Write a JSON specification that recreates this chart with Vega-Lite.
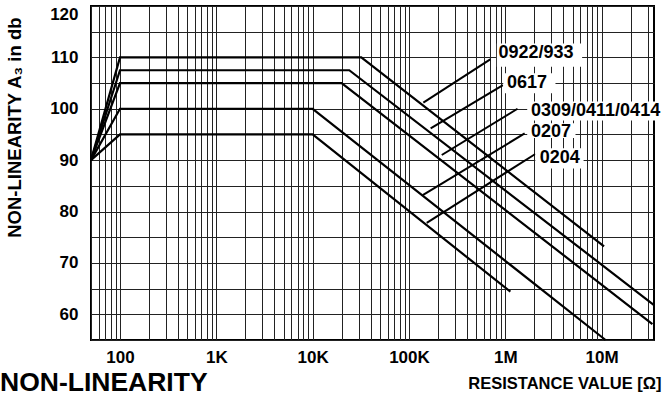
{
  "$schema": "https://vega.github.io/schema/vega-lite/v6.json",
  "width": 563,
  "height": 334,
  "autosize": {"type": "none"},
  "padding": {"left": 91, "top": 6, "right": 9, "bottom": 64},
  "background": "white",
  "config": {
    "font": "Liberation Sans",
    "view": {"stroke": "black", "strokeWidth": 2},
    "axis": {
      "grid": true, "gridColor": "#222", "gridWidth": 1, "gridOpacity": 1,
      "domain": false, "ticks": false,
      "labelFont": "Liberation Sans", "labelFontWeight": "bold", "labelFontSize": 17, "labelColor": "black",
      "titleFont": "Liberation Sans", "titleColor": "black", "titleFontWeight": "bold",
      "labelOverlap": false, "labelBound": false
    }
  },
  "title": {
    "text": "NON-LINEARITY", "orient": "bottom", "anchor": "start", "frame": "group",
    "font": "Liberation Sans", "fontSize": 26.5, "fontWeight": "bold", "color": "black",
    "offset": 0, "dx": -91, "dy": -22
  },
  "datasets": {
    "curves": [
      {"s": "0922/933", "r": 50, "a": 90}, {"s": "0922/933", "r": 100, "a": 110}, {"s": "0922/933", "r": 32000, "a": 110}, {"s": "0922/933", "r": 10600000, "a": 73.2},
      {"s": "0617", "r": 50, "a": 90}, {"s": "0617", "r": 100, "a": 107.5}, {"s": "0617", "r": 24000, "a": 107.5}, {"s": "0617", "r": 35000000, "a": 61.8},
      {"s": "0309/0411/0414", "r": 50, "a": 90}, {"s": "0309/0411/0414", "r": 100, "a": 105}, {"s": "0309/0411/0414", "r": 20000, "a": 105}, {"s": "0309/0411/0414", "r": 33700000, "a": 58.1},
      {"s": "0207", "r": 50, "a": 90}, {"s": "0207", "r": 100, "a": 100}, {"s": "0207", "r": 10000, "a": 100}, {"s": "0207", "r": 11000000, "a": 55},
      {"s": "0204", "r": 50, "a": 90}, {"s": "0204", "r": 100, "a": 95}, {"s": "0204", "r": 10000, "a": 95}, {"s": "0204", "r": 1130000, "a": 64.4}
    ],
    "leaders": [
      {"s": "0922/933", "r": 698000, "a": 109.6, "r2": 141000, "a2": 101.2},
      {"s": "0617", "r": 946000, "a": 104.6, "r2": 168000, "a2": 96.2},
      {"s": "0309/0411/0414", "r": 1340000, "a": 100, "r2": 219000, "a2": 91},
      {"s": "0207", "r": 1590000, "a": 95.2, "r2": 139000, "a2": 83.2},
      {"s": "0204", "r": 2050000, "a": 91.2, "r2": 153000, "a2": 77.8}
    ],
    "boxes": [
      {"s": "0922/933", "r": 818000, "a": 112.7, "r2": 6280000, "a2": 108.2},
      {"s": "0617", "r": 953000, "a": 106.9, "r2": 3320000, "a2": 103.0},
      {"s": "0309/0411/0414", "r": 1690000, "a": 101.4, "r2": 44000000, "a2": 97.7},
      {"s": "0207", "r": 1690000, "a": 97.2, "r2": 5360000, "a2": 94.3},
      {"s": "0204", "r": 2050000, "a": 92.3, "r2": 6500000, "a2": 88.4}
    ],
    "labels": [
      {"s": "0922/933", "r": 851000, "a": 110.8},
      {"s": "0617", "r": 1040000, "a": 105.0},
      {"s": "0309/0411/0414", "r": 1850000, "a": 99.6},
      {"s": "0207", "r": 1850000, "a": 95.5},
      {"s": "0204", "r": 2280000, "a": 90.5}
    ]
  },
  "layer": [
    {
      "data": {"name": "curves"},
      "mark": {"type": "line", "color": "black", "strokeWidth": 2.2},
      "encoding": {
        "x": {
          "field": "r", "type": "quantitative",
          "scale": {"type": "log", "domain": [50, 35000000], "nice": false},
          "axis": {
            "values": [50, 60, 70, 80, 90, 100, 200, 300, 400, 500, 600, 700, 800, 900, 1000, 2000, 3000, 4000, 5000, 6000, 7000, 8000, 9000, 10000, 20000, 30000, 40000, 50000, 60000, 70000, 80000, 90000, 100000, 200000, 300000, 400000, 500000, 600000, 700000, 800000, 900000, 1000000, 2000000, 3000000, 4000000, 5000000, 6000000, 7000000, 8000000, 9000000, 10000000, 20000000, 30000000],
            "tickCount": 200,
            "labelExpr": "datum.value == 100 ? '100' : datum.value == 1000 ? '1K' : datum.value == 10000 ? '10K' : datum.value == 100000 ? '100K' : datum.value == 1000000 ? '1M' : datum.value == 10000000 ? '10M' : ''",
            "labelPadding": 9,
            "title": "RESISTANCE VALUE [Ω]", "titleFontSize": 16.5,
            "titleX": 570, "titleY": 43, "titleAlign": "right", "titleBaseline": "middle"
          }
        },
        "y": {
          "field": "a", "type": "quantitative",
          "scale": {"domain": [55, 120], "nice": false, "zero": false},
          "axis": {
            "values": [55, 60, 65, 70, 75, 80, 85, 90, 95, 100, 105, 110, 115, 120],
            "tickCount": 100,
            "labelExpr": "datum.value == 60 || datum.value == 70 || datum.value == 80 || datum.value == 90 || datum.value == 100 || datum.value == 110 || datum.value == 120 ? '' + datum.value : ''",
            "labelPadding": 13, "labelFlush": true,
            "title": "NON-LINEARITY A₃ in db", "titleFontSize": 18.5,
            "titleAngle": -90, "titleX": -77, "titleY": 11, "titleAlign": "right", "titleBaseline": "middle"
          }
        },
        "detail": {"field": "s", "type": "nominal"}
      }
    },
    {
      "data": {"name": "leaders"},
      "mark": {"type": "rule", "color": "black", "strokeWidth": 2},
      "encoding": {
        "x": {"field": "r", "type": "quantitative"},
        "x2": {"field": "r2"},
        "y": {"field": "a", "type": "quantitative"},
        "y2": {"field": "a2"}
      }
    },
    {
      "data": {"name": "boxes"},
      "mark": {"type": "rect", "color": "white", "opacity": 1},
      "encoding": {
        "x": {"field": "r", "type": "quantitative"},
        "x2": {"field": "r2"},
        "y": {"field": "a", "type": "quantitative"},
        "y2": {"field": "a2"}
      }
    },
    {
      "data": {"name": "labels"},
      "mark": {"type": "text", "align": "left", "baseline": "middle", "font": "Liberation Sans", "fontSize": 18, "fontWeight": "bold", "color": "black"},
      "encoding": {
        "x": {"field": "r", "type": "quantitative"},
        "y": {"field": "a", "type": "quantitative"},
        "text": {"field": "s", "type": "nominal"}
      }
    }
  ]
}
